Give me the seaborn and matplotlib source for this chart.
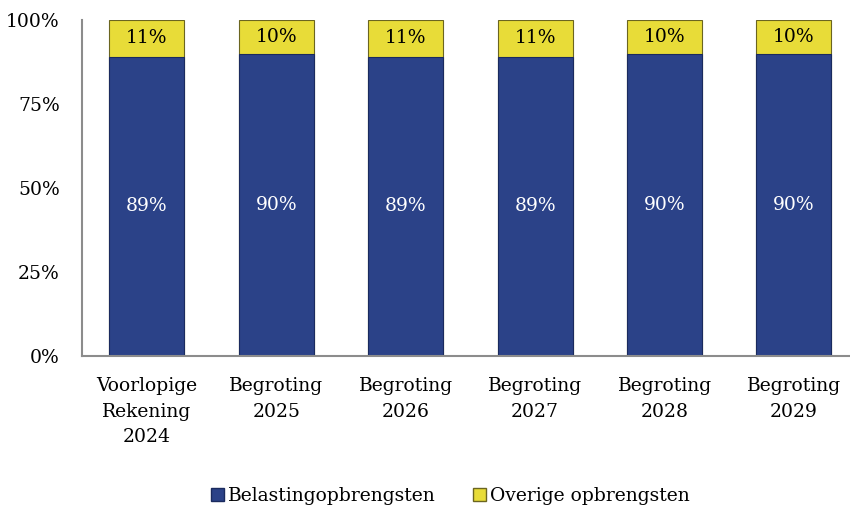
import numpy as np
import pandas as pd
import seaborn as sns
import matplotlib.pyplot as plt
from matplotlib.patches import Patch

categories = ["Voorlopige\nRekening\n2024", "Begroting\n2025", "Begroting\n2026",
              "Begroting\n2027", "Begroting\n2028", "Begroting\n2029"]
belasting = [89, 90, 89, 89, 90, 90]
overige = [11, 10, 11, 11, 10, 10]

blue = "#2b4288"
yellow = "#e8dc38"

df = pd.DataFrame({"cat": categories, "belasting": belasting, "overige": overige})
df["totaal"] = df["belasting"] + df["overige"]

sns.set_style("white")
plt.rcParams["font.family"] = ["DejaVu Serif"]
plt.rcParams["text.color"] = "black"
plt.rcParams["xtick.color"] = "black"
plt.rcParams["ytick.color"] = "black"

fig = plt.figure(figsize=(8.5, 5.08), dpi=100)
ax = fig.add_axes([82 / 850, 152 / 508, 768 / 850, 336 / 508])

# totaal (yellow) first, then blue on top
sns.barplot(data=df, x="cat", y="totaal", color=yellow, saturation=1, width=0.58,
            edgecolor="#6b6520", linewidth=0.8, ax=ax)
sns.barplot(data=df, x="cat", y="belasting", color=blue, saturation=1, width=0.58,
            edgecolor="#1a2a5e", linewidth=0.8, ax=ax)

for i, (b, o) in enumerate(zip(belasting, overige)):
    ax.text(i, b / 2, f"{b}%", ha="center", va="center", color="white", fontsize=13.5)
    ax.text(i, b + o / 2, f"{o}%", ha="center", va="center", color="black", fontsize=13.5)

ax.set_xlim(-0.502, 5.433)
ax.set_ylim(0, 100)
ax.set_yticks([0, 25, 50, 75, 100])
ax.set_yticklabels(["0%", "25%", "50%", "75%", "100%"])
ax.set_xlabel("")
ax.set_ylabel("")
ax.tick_params(axis="both", length=0, labelsize=13.5)
ax.tick_params(axis="y", pad=16)
ax.tick_params(axis="x", pad=15)
for lbl in ax.get_xticklabels():
    lbl.set_linespacing(1.55)

for s in ["top", "right"]:
    ax.spines[s].set_visible(False)
for s in ["left", "bottom"]:
    ax.spines[s].set_color("#8c8c8c")
    ax.spines[s].set_linewidth(1.5)

handles = [Patch(facecolor=blue, edgecolor="#1a2a5e", label="Belastingopbrengsten"),
           Patch(facecolor=yellow, edgecolor="#6b6520", label="Overige opbrengsten")]
fig.legend(handles=handles, loc="center", bbox_to_anchor=(450 / 850, 1 - 496 / 508),
           ncol=2, frameon=False, fontsize=13.5, handlelength=0.7, handleheight=0.7,
           handletextpad=0.2, columnspacing=2.0)

fig.savefig("out.png", dpi=100)
